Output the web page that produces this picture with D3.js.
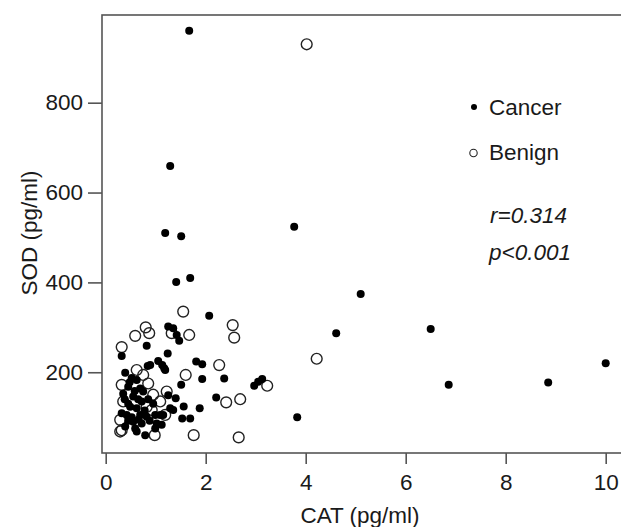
<!DOCTYPE html>
<html>
<head>
<meta charset="utf-8">
<script src="https://cdn.jsdelivr.net/npm/d3@7"></script>
<style>
  body { margin: 0; background: #fff; }
  svg text { font-family: "Liberation Sans", Arial, sans-serif; fill: #1a1a1a; }
</style>
</head>
<body>
<svg id="chart" width="621" height="527"></svg>
<script>
// CAT (x) vs SOD (y)
const cancer = [
  [1.67, 960], [1.29, 659], [1.19, 510], [1.51, 503], [1.41, 401], [1.69, 410],
  [3.77, 524], [5.10, 374], [4.61, 287], [6.50, 296], [6.86, 172], [8.85, 177],
  [10.0, 220], [3.83, 100], [2.07, 326], [1.93, 185], [2.37, 186], [2.97, 170],
  [3.05, 179], [3.13, 185], [2.21, 144], [1.56, 124], [1.88, 120], [1.53, 97],
  [1.69, 97], [1.81, 224], [1.93, 218], [0.82, 259], [0.32, 236], [1.25, 302],
  [1.35, 298], [1.42, 283], [1.47, 270], [1.24, 242], [1.05, 225], [1.13, 216],
  [1.19, 205], [0.84, 214], [0.39, 199], [1.51, 172], [1.40, 142], [0.79, 60],
  [0.52, 187], [0.62, 183], [0.45, 168], [0.69, 164], [0.75, 157], [0.55, 146],
  [0.49, 123], [0.62, 120], [0.32, 109], [0.42, 105], [0.69, 105], [0.82, 101],
  [0.99, 105], [0.55, 90], [0.72, 86], [0.39, 79], [0.59, 75], [0.62, 68],
  [0.99, 75], [1.17, 209], [1.25, 149], [1.29, 120], [1.35, 116], [1.09, 105],
  [1.15, 105], [1.02, 86], [1.12, 83], [0.89, 216], [0.38, 140], [0.45, 130],
  [0.85, 140], [0.95, 130], [0.65, 140], [0.52, 100], [0.78, 115], [0.35, 152],
  [0.48, 178], [0.58, 158], [0.72, 135], [0.88, 92], [0.45, 92], [0.66, 95]
];
const benign = [
  [4.02, 930], [1.55, 335], [2.54, 305], [2.57, 277], [1.67, 283], [2.27, 216],
  [4.22, 230], [1.60, 194], [3.23, 170], [2.41, 133], [2.69, 140], [1.76, 60],
  [2.66, 55], [0.80, 300], [0.59, 281], [0.87, 287], [0.32, 256], [0.62, 205],
  [0.98, 60], [0.32, 71], [0.32, 172], [0.85, 175], [0.35, 135], [0.82, 123],
  [0.92, 116], [0.29, 94], [0.29, 68], [1.22, 157], [1.09, 135], [1.19, 105],
  [1.32, 287], [0.75, 194], [0.95, 150]
];
const xTicks = [0, 2, 4, 6, 8, 10];
const yTicks = [200, 400, 600, 800];

const svg = d3.select('#chart');
const x = d3.scaleLinear().domain([0, 10]).range([105.7, 605.7]);
const y = d3.scaleLinear().domain([0, 800]).range([462.1, 102.7]);

const boxLeft = 102, boxTop = 15, boxBottom = 453;
const ink = '#555';
const fs = 22.5;

// plot box (right side runs off the image)
svg.append('rect')
  .attr('x', boxLeft).attr('y', boxTop)
  .attr('width', 640 - boxLeft).attr('height', boxBottom - boxTop)
  .attr('fill', 'none').attr('stroke', ink).attr('stroke-width', 1.6);

const xAxis = svg.append('g')
  .attr('transform', `translate(0,${boxBottom})`)
  .call(d3.axisBottom(x).tickValues(xTicks).tickSize(11).tickPadding(10));
const yAxis = svg.append('g')
  .attr('transform', `translate(${boxLeft},0)`)
  .call(d3.axisLeft(y).tickValues(yTicks).tickSize(14).tickPadding(5));

[xAxis, yAxis].forEach(g => {
  g.select('.domain').remove();
  g.selectAll('line').attr('stroke', ink).attr('stroke-width', 1.6);
  g.selectAll('text').attr('font-size', fs).attr('fill', '#1a1a1a')
    .style('font-family', '"Liberation Sans", Arial, sans-serif');
});

// axis titles
svg.append('text').attr('x', 360).attr('y', 523)
  .attr('text-anchor', 'middle').attr('font-size', fs).text('CAT (pg/ml)');
svg.append('text').attr('transform', 'translate(37,233) rotate(-90)')
  .attr('text-anchor', 'middle').attr('font-size', fs).text('SOD (pg/ml)');

// points
svg.append('g').selectAll('circle').data(benign).join('circle')
  .attr('cx', d => x(d[0])).attr('cy', d => y(d[1])).attr('r', 5.4)
  .attr('fill', 'none').attr('stroke', '#222').attr('stroke-width', 1.4);
svg.append('g').selectAll('circle').data(cancer).join('circle')
  .attr('cx', d => x(d[0])).attr('cy', d => y(d[1])).attr('r', 4)
  .attr('fill', '#000');

// legend
svg.append('circle').attr('cx', 474).attr('cy', 107).attr('r', 3).attr('fill', '#000');
svg.append('text').attr('x', 489).attr('y', 115).attr('font-size', fs).text('Cancer');
svg.append('circle').attr('cx', 473.5).attr('cy', 153).attr('r', 3.7)
  .attr('fill', 'none').attr('stroke', '#222').attr('stroke-width', 1.1);
svg.append('text').attr('x', 489).attr('y', 160).attr('font-size', fs).text('Benign');

svg.append('text').attr('x', 490).attr('y', 223).attr('font-size', fs)
  .attr('font-style', 'italic').text('r=0.314');
svg.append('text').attr('x', 489).attr('y', 260).attr('font-size', fs)
  .attr('font-style', 'italic').text('p<0.001');
</script>
</body>
</html>
